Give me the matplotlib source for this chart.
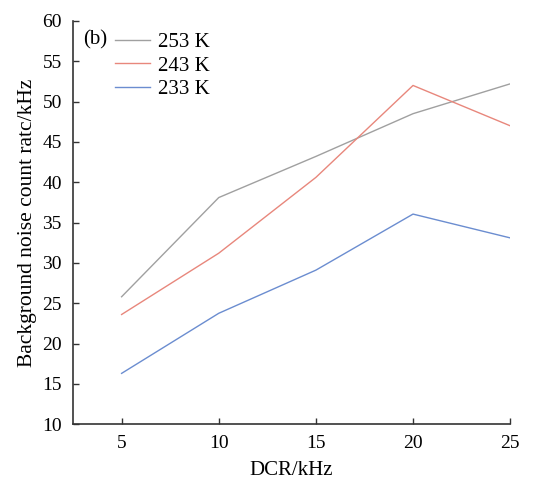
import numpy as np
import matplotlib
matplotlib.use('Agg')
import matplotlib.pyplot as plt

plt.rcParams['font.family'] = ['Liberation Serif', 'DejaVu Serif']

# data
dcr = [5, 10, 15, 20, 25]
noise_253 = [25.8, 38.1, 43.2, 48.5, 52.2]
noise_243 = [23.6, 31.2, 40.6, 52.0, 47.0]
noise_233 = [16.3, 23.75, 29.1, 36.05, 33.1]
labels = ['253 K', '243 K', '233 K']
colors = ['#a0a0a0', '#e8877c', '#6b8dd0']

fig = plt.figure(figsize=(5.41, 4.87), dpi=100)
ax = fig.add_axes([0.135, 0.129, 0.808, 0.828])

for ys, lab, c in zip([noise_253, noise_243, noise_233], labels, colors):
    ax.plot(dcr, ys, color=c, linewidth=1.0, label=lab)

ax.set_xlim(2.5, 25)
ax.set_ylim(10, 60)
ax.set_xticks([5, 10, 15, 20, 25])
ax.set_yticks(np.arange(10, 61, 5))
ax.spines['top'].set_visible(False)
ax.spines['right'].set_visible(False)
for s in ['left', 'bottom']:
    ax.spines[s].set_linewidth(1.2)
    ax.spines[s].set_color('#333333')
ax.tick_params(direction='in', length=4, width=1.0, labelsize=14, color='#333333', pad=8)

ax.set_xlabel('DCR/kHz', fontsize=15, labelpad=6)
ax.set_ylabel('Background noise count ratc/kHz', fontsize=15.5, labelpad=4)

leg = ax.legend(loc='upper left', bbox_to_anchor=(0.096, 0.972), frameon=False,
                fontsize=15, handlelength=1.7, handletextpad=0.35,
                labelspacing=0.2, borderaxespad=0, borderpad=0)
ax.text(0.023, 0.953, '(b)', transform=ax.transAxes, fontsize=15, va='center')

fig.savefig('out.png', dpi=100)
